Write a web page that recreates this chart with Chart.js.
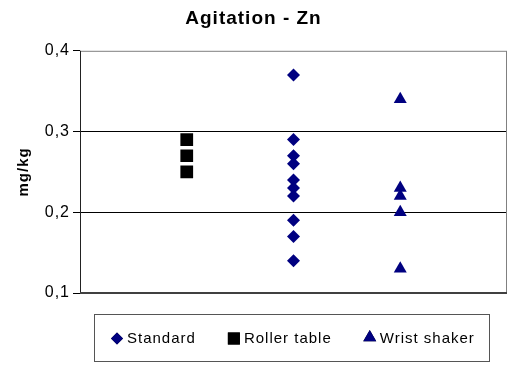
<!DOCTYPE html>
<html>
<head>
<meta charset="utf-8">
<script src="https://cdn.jsdelivr.net/npm/chart.js@4/dist/chart.umd.min.js"></script>
<style>
  html, body { margin: 0; padding: 0; background: #fff; overflow: hidden; }
</style>
</head>
<body>
<canvas id="chart" width="508" height="370"></canvas>
<script>
// x position of each group on a 0..4 axis
let groupX = { standard: 2, roller: 1, wrist: 3 };
let standardVals = [0.37, 0.29, 0.27, 0.26, 0.24, 0.23, 0.22, 0.19, 0.17, 0.14];
let rollerVals = [0.29, 0.27, 0.25];
let wristVals = [0.34, 0.23, 0.22, 0.20, 0.13];
let yTicks = [0.1, 0.2, 0.3, 0.4];

const FONT = 'Liberation Sans, Arial, sans-serif';

function pts(x, vals) {
  return vals.map(v => ({ x: x, y: v }));
}

function fmt(v) {
  return v.toFixed(1).replace('.', ',');
}

// the reference text runs a bit wide
let spacingPlugin = {
  id: 'spacing',
  beforeLayout(chart) { chart.ctx.letterSpacing = '1px'; },
  beforeDraw(chart) { chart.ctx.letterSpacing = '1px'; }
};

// plot-area frame, excel style
let framePlugin = {
  id: 'frame',
  beforeDatasetsDraw(chart) {
    let a = chart.chartArea, ctx = chart.ctx;
    ctx.save();
    ctx.strokeStyle = '#808080';
    ctx.lineWidth = 1;
    ctx.strokeRect(a.left + 0.5, a.top + 0.5, a.right - a.left - 1, a.bottom - a.top);
    ctx.strokeStyle = '#222';
    ctx.beginPath();
    ctx.moveTo(a.left + 0.5, a.top);
    ctx.lineTo(a.left + 0.5, a.bottom);
    ctx.stroke();
    ctx.lineWidth = 2;
    ctx.strokeStyle = '#404040';
    ctx.beginPath();
    ctx.moveTo(a.left, a.bottom);
    ctx.lineTo(a.right, a.bottom);
    ctx.stroke();
    ctx.restore();
  }
};

// boxed legend under the plot
let legendPlugin = {
  id: 'boxLegend',
  afterDraw(chart) {
    let ctx = chart.ctx, a = chart.chartArea;
    let sets = chart.data.datasets;
    ctx.save();
    ctx.font = '15px ' + FONT;
    ctx.letterSpacing = '1px';
    let mark = 12, gap = 4, between = 32, padL = 17, padR = 14;
    let widths = sets.map(d => mark + gap + ctx.measureText(d.label).width);
    let total = padL + padR + widths.reduce((s, w) => s + w, 0) + between * (sets.length - 1);
    let left = Math.round((a.left + a.right) / 2 - total / 2) - 2;
    let top = a.bottom + 21, h = 47;
    ctx.strokeStyle = '#555';
    ctx.lineWidth = 1;
    ctx.strokeRect(left + 0.5, top + 0.5, Math.round(total), h);
    let cy = top + h / 2 + 1;
    let x = left + padL;
    sets.forEach((d, i) => {
      let r = d.pointStyle === 'rect' ? 8.5 : d.pointStyle === 'triangle' ? 7.5 : 6;
      Chart.helpers.drawPoint(ctx, {
        pointStyle: d.pointStyle, radius: r, rotation: 0, borderWidth: 0
      }, x + mark / 2, d.pointStyle === 'triangle' ? cy - 1 : cy);
      ctx.fillStyle = d.backgroundColor;
      ctx.fill();
      ctx.fillStyle = '#000';
      ctx.textBaseline = 'middle';
      ctx.textAlign = 'left';
      ctx.fillText(d.label, x + mark + gap, cy);
      x += widths[i] + between;
    });
    ctx.restore();
  }
};

let chart = new Chart(document.getElementById('chart'), {
  type: 'scatter',
  data: {
    datasets: [
      {
        label: 'Standard',
        data: pts(groupX.standard, standardVals),
        pointStyle: 'rectRot',
        pointRadius: 6.5,
        pointHoverRadius: 6.5,
        backgroundColor: '#000080',
        borderColor: '#000080',
        borderWidth: 0
      },
      {
        label: 'Roller table',
        data: pts(groupX.roller, rollerVals),
        pointStyle: 'rect',
        pointRadius: 9,
        pointHoverRadius: 9,
        backgroundColor: '#000000',
        borderColor: '#000000',
        borderWidth: 0
      },
      {
        label: 'Wrist shaker',
        data: pts(groupX.wrist, wristVals),
        pointStyle: 'triangle',
        pointRadius: 7.5,
        pointHoverRadius: 7.5,
        backgroundColor: '#000080',
        borderColor: '#000080',
        borderWidth: 0
      }
    ]
  },
  options: {
    responsive: false,
    animation: false,
    layout: { autoPadding: false, padding: { left: 0, right: 1, top: 0, bottom: 0 } },
    plugins: {
      title: {
        display: true,
        text: 'Agitation - Zn',
        color: '#000',
        font: { family: FONT, size: 19, weight: 'bold' },
        padding: { top: 7, bottom: 21 }
      },
      legend: { display: false },
      tooltip: { enabled: false }
    },
    scales: {
      x: {
        type: 'linear',
        min: 0,
        max: 4,
        ticks: { display: false },
        grid: { display: false },
        border: { display: false },
        afterFit(scale) {
          scale.height = 77;
        }
      },
      y: {
        min: 0.1,
        max: 0.4,
        afterBuildTicks(scale) {
          scale.ticks = yTicks.map(v => ({ value: v }));
        },
        afterFit(scale) { scale.width = 80; },
        ticks: {
          color: '#000',
          padding: 3,
          font: { family: FONT, size: 16 },
          callback: v => fmt(v)
        },
        grid: {
          color: ctx => (ctx.tick && (ctx.tick.value === 0.2 || ctx.tick.value === 0.3)) ? '#000' : 'rgba(0,0,0,0)',
          tickColor: '#000',
          tickLength: 7
        },
        border: { display: false },
        title: {
          display: true,
          text: 'mg/kg',
          color: '#000',
          font: { family: FONT, size: 15, weight: 'bold' },
          padding: { top: 15, bottom: 0 }
        }
      }
    }
  },
  plugins: [spacingPlugin, framePlugin, legendPlugin]
});
</script>
</body>
</html>
